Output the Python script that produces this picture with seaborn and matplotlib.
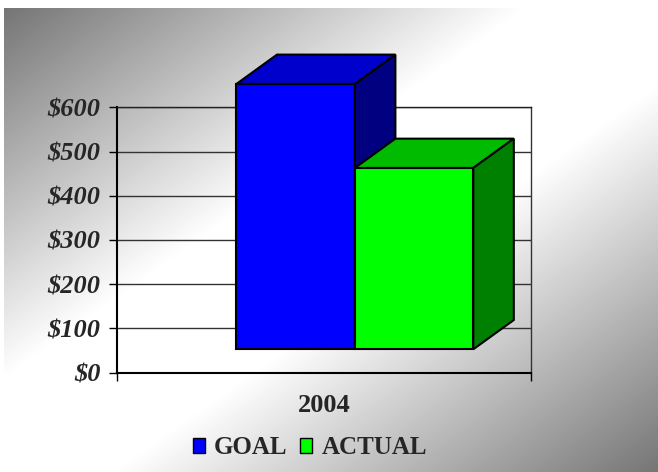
import numpy as np
import pandas as pd
import matplotlib
matplotlib.use("Agg")
import matplotlib.pyplot as plt
from matplotlib.patches import Polygon, Patch
from matplotlib.transforms import Affine2D, IdentityTransform
import seaborn as sns

# data
years = ["2004"]
series = ["GOAL", "ACTUAL"]
values = [600, 410]
yticks = [0, 100, 200, 300, 400, 500, 600]
ytick_labels = ["$" + str(v) for v in yticks]

# colours of the three visible faces of each column
front_colors = ["#0000FF", "#00FF00"]
top_colors = ["#0000CC", "#00BB00"]
side_colors = ["#000080", "#008000"]

df = pd.DataFrame({"year": years * len(series), "series": series, "value": values})

sns.set_theme(style="white")
plt.rcParams["font.family"] = ["Liberation Serif", "DejaVu Serif"]
plt.rcParams["font.weight"] = "bold"

fig = plt.figure(figsize=(6.58, 4.72), dpi=100)
fig.patch.set_facecolor("white")

# diagonal grey-white-grey background
bg = fig.add_axes([4 / 658, 0, 654 / 658, 464 / 472], zorder=-1)
h, w = 464, 654
yy, xx = np.mgrid[0:h, 0:w]
t = (xx / w + yy / h) / 2
shade = np.interp(t, [0, 0.4, 0.58, 1.0], [117, 255, 255, 117]) / 255
bg.imshow(shade, cmap="gray", vmin=0, vmax=1, aspect="auto", interpolation="bilinear")
bg.axis("off")

# the chart wall
ax = fig.add_axes([117 / 658, 99.3 / 472, 414.3 / 658, 265.4 / 472])
ax.set_facecolor("none")
sns.barplot(data=df, x="year", y="value", hue="series", hue_order=series,
            palette=front_colors, saturation=1, width=0.5716,
            edgecolor="black", linewidth=1.5, legend=False, ax=ax, zorder=3)
ax.set_xlim(-0.5, 0.5)
ax.set_ylim(0, 600)

# fake 3d: front faces sit in a shifted plane, add top and side faces
dx_front, dy_front = 30.75, 23.4
depth_x, depth_y = 40.5, 29.3
shift = ax.transData + Affine2D().translate(dx_front, dy_front)
for i, (bar, tc, sc) in enumerate(zip(list(ax.patches), top_colors, side_colors)):
    bar.set_transform(shift)
    bar.set_clip_on(False)
    bar.set_zorder(3 + i)
    x0, y0 = bar.get_x(), bar.get_y()
    x1, y1 = x0 + bar.get_width(), y0 + bar.get_height()
    (px0, py0), (px1, py1) = shift.transform([(x0, y0), (x1, y1)])
    top = Polygon([(px0, py1), (px1, py1), (px1 + depth_x, py1 + depth_y), (px0 + depth_x, py1 + depth_y)],
                  closed=True, facecolor=tc, edgecolor="black", linewidth=1.5,
                  transform=IdentityTransform(), clip_on=False, zorder=3.5 + i)
    side = Polygon([(px1, py0), (px1 + depth_x, py0 + depth_y), (px1 + depth_x, py1 + depth_y), (px1, py1)],
                   closed=True, facecolor=sc, edgecolor="black", linewidth=1.5,
                   transform=IdentityTransform(), clip_on=False, zorder=3.5 + i)
    ax.add_patch(top)
    ax.add_patch(side)

ax.set_xlim(-0.5, 0.5)
ax.set_ylim(0, 600)

# axes, ticks, grid
ax.set_yticks(yticks)
ax.set_yticklabels(ytick_labels, fontsize=19, fontweight="bold", fontstyle="italic")
ax.set_xticks([0])
ax.set_xticklabels(years, fontsize=19, fontweight="bold")
ax.set_xticks([-0.5, 0.5], minor=True)
ax.tick_params(axis="y", left=True, length=6, width=1, direction="out", pad=6, color="black")
ax.tick_params(axis="x", which="major", bottom=True, length=0, pad=15.5)
ax.tick_params(axis="x", which="minor", bottom=True, length=6, width=1, direction="out", color="black")
ax.set_xlabel("")
ax.set_ylabel("")
ax.yaxis.grid(True, color="#333333", linewidth=1)
ax.set_axisbelow(True)
for name in ["left", "bottom"]:
    ax.spines[name].set_color("black")
    ax.spines[name].set_linewidth(1.5)
ax.spines["top"].set_color("#222222")
ax.spines["top"].set_linewidth(1)
ax.spines["right"].set_color("#333333")
ax.spines["right"].set_linewidth(1)

handles = [Patch(facecolor=c, edgecolor="black", linewidth=1, label=s) for c, s in zip(front_colors, series)]
fig.legend(handles=handles, loc="center", bbox_to_anchor=(0.471, 0.051), ncol=2, frameon=False,
           prop={"size": 18, "weight": "bold"}, handlelength=0.48, handleheight=0.5,
           handletextpad=0.38, columnspacing=0.5, borderpad=0)

fig.savefig("out.png", dpi=100)
